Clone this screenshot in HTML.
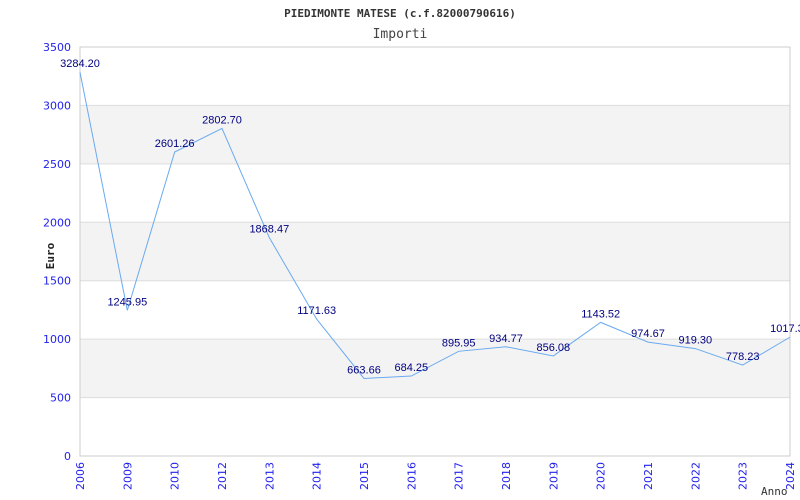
<!DOCTYPE html>
<html><head><meta charset="utf-8"><style>
body{margin:0;background:#fff;width:800px;height:500px;overflow:hidden}
svg{display:block;font-family:"DejaVu Sans Mono","Liberation Mono",monospace}
</style></head><body>
<svg id="chart" width="800" height="500" xmlns="http://www.w3.org/2000/svg">
<text x="400" y="17" text-anchor="middle" font-size="11" font-weight="bold" fill="#333">PIEDIMONTE MATESE (c.f.82000790616)</text>
<text x="400" y="38" text-anchor="middle" font-size="13" fill="#444">Importi</text>
<text transform="translate(54,256) rotate(-90)" text-anchor="middle" font-size="11" font-weight="bold" fill="#222">Euro</text>
<text x="761" y="495" font-size="11" fill="#333">Anno</text>
<g id="bands"></g><g id="grid"></g><g id="yticks"></g><g id="xticks"></g>
<rect x="80" y="47" width="710" height="409" fill="none" stroke="#ccc"/>
<g id="series"></g><g id="labels"></g>
</svg>
<script>
const categories=["2006","2009","2010","2012","2013","2014","2015","2016","2017","2018","2019","2020","2021","2022","2023","2024"];
const values=[3284.20,1245.95,2601.26,2802.70,1868.47,1171.63,663.66,684.25,895.95,934.77,856.08,1143.52,974.67,919.30,778.23,1017.30];
const yTicks=[0,500,1000,1500,2000,2500,3000,3500];
const NS="http://www.w3.org/2000/svg";
const L=80,R=790,T=47,B=456,YMAX=3500;
const x=i=>L+(R-L)*i/(categories.length-1);
const y=v=>B-(B-T)*v/YMAX;
function mk(tag,attrs,parent,text){const e=document.createElementNS(NS,tag);for(const k in attrs)e.setAttribute(k,attrs[k]);if(text!==undefined)e.textContent=text;document.getElementById(parent).appendChild(e);return e;}
for(let i=0;i<yTicks.length-1;i++){
  if(i%2===1){const r=mk('rect',{x:L,y:y(yTicks[i+1]),width:R-L,height:y(yTicks[i])-y(yTicks[i+1]),fill:'#f3f3f3'},'bands');
  
  }
}
yTicks.forEach(t=>{
  const g=mk('line',{x1:L,x2:R,y1:y(t),y2:y(t),stroke:'#ddd'},'grid');
  
  
  const tl=mk('text',{x:71,y:y(t)+4,'text-anchor':'end','font-size':'11',fill:'#2222ee','font-family':'DejaVu Sans, sans-serif'},'yticks',String(t));
  
  
});
categories.forEach((c,i)=>{
  const tl=mk('text',{transform:`translate(${x(i)+4},462) rotate(-90)`,'text-anchor':'end','font-size':'11',fill:'#2222ee','font-family':'DejaVu Sans, sans-serif'},'xticks',c);
  
  
});
const pl=mk('polyline',{points:values.map((v,i)=>x(i)+','+y(v)).join(' '),fill:'none',stroke:'#6aaaf0','stroke-width':'1'},'series');


values.forEach((v,i)=>{
  const t=mk('text',{x:x(i),y:y(v)-5,'text-anchor':'middle','font-size':'11',fill:'#000080','font-family':'Liberation Sans, sans-serif'},'labels',v.toFixed(2));
  
  
});
</script>
</body></html>
